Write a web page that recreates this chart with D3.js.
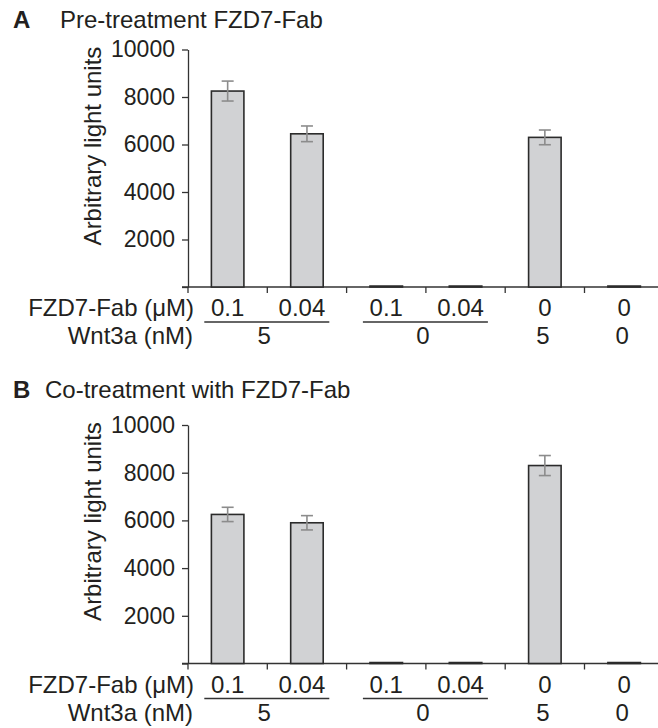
<!DOCTYPE html>
<html>
<head>
<meta charset="utf-8">
<script src="https://cdn.jsdelivr.net/npm/d3@7"></script>
<style>
  html, body { margin: 0; padding: 0; background: #fff; }
  svg { display: block; font-family: "Liberation Sans", Arial, sans-serif; }
</style>
</head>
<body>
<svg id="chart" width="658" height="728"></svg>
<script>
// ---- data ----
const categories = ["c1", "c2", "c3", "c4", "c5", "c6"];
const fabLabels = ["0.1", "0.04", "0.1", "0.04", "0", "0"];
const wntLabels = ["5", "0", "5", "0"];
const wntGroupStart = [0, 2, 4, 5];
const wntGroupEnd = [1, 3, 4, 5];
const yTicks = [0, 2000, 4000, 6000, 8000, 10000];
const preMeans = [8250, 6450, 40, 40, 6300, 40];
const preErrors = [420, 330, 0, 0, 310, 0];
const coMeans = [6250, 5900, 40, 40, 8300, 40];
const coErrors = [300, 300, 0, 0, 420, 0];
const panelLetters = ["A", "B"];
const panelTitles = ["Pre-treatment FZD7-Fab", "Co-treatment with FZD7-Fab"];
const rowTitles = ["FZD7-Fab (\u03bcM)", "Wnt3a (nM)"];
const yLabel = "Arbitrary light units";

// ---- drawing ----
const svg = d3.select("#chart");
const textColor = "#231f20";
const axisColor = "#333333";

const x = d3.scaleBand()
  .domain(categories)
  .range([188, 188 + 6 * 79.3])
  .paddingInner(0.59)
  .paddingOuter(0.295);

function drawPanel(idx, means, errors, top, bottom, titleY, titleX) {
  const g = svg.append("g");
  const y = d3.scaleLinear().domain([0, 10000]).range([bottom, top]);

  // title
  g.append("text").attr("x", 13).attr("y", titleY)
    .attr("font-size", 24).attr("font-weight", "bold").attr("fill", textColor)
    .text(panelLetters[idx]);
  g.append("text").attr("x", titleX).attr("y", titleY)
    .attr("font-size", 24).attr("fill", textColor)
    .text(panelTitles[idx]);

  // x axis line + boundary ticks
  g.append("line")
    .attr("x1", x.range()[0] - 6).attr("x2", 658)
    .attr("y1", y(0)).attr("y2", y(0))
    .attr("stroke", axisColor).attr("stroke-width", 1.3);
  d3.range(categories.length).forEach(i => {
    const bx = x.range()[0] + i * x.step();
    g.append("line")
      .attr("x1", bx).attr("x2", bx)
      .attr("y1", y(0)).attr("y2", y(0) + 6)
      .attr("stroke", axisColor).attr("stroke-width", 1.3);
  });

  // y axis
  const yAxis = d3.axisLeft(y)
    .tickValues(yTicks)
    .tickFormat(d => d === 0 ? "" : d3.format("d")(d))
    .tickSize(6).tickSizeOuter(0).tickPadding(7);
  const ya = g.append("g").attr("transform", `translate(${x.range()[0]},0)`).call(yAxis);
  ya.selectAll("path, line").attr("stroke", axisColor).attr("stroke-width", 1.3);
  ya.selectAll("text").attr("font-size", 23).attr("fill", textColor)
    .attr("font-family", "Liberation Sans, Arial, sans-serif");

  // y label
  g.append("text")
    .attr("transform", `translate(101,${top + 96.5}) rotate(-90)`)
    .attr("text-anchor", "middle")
    .attr("font-size", 24).attr("fill", textColor)
    .text(yLabel);

  // bars
  g.selectAll("rect.bar").data(means).enter().append("rect")
    .attr("class", "bar")
    .attr("x", (d, i) => x(categories[i]))
    .attr("width", x.bandwidth())
    .attr("y", d => y(d))
    .attr("height", d => y(0) - y(d))
    .attr("fill", "#d1d2d4")
    .attr("stroke", "#2b2b2b").attr("stroke-width", 1.6);

  // error bars
  const errColor = "#8c8c8c";
  means.forEach((m, i) => {
    const e = errors[i];
    if (!e) return;
    const cx = x(categories[i]) + x.bandwidth() / 2;
    g.append("line").attr("x1", cx).attr("x2", cx)
      .attr("y1", y(m + e)).attr("y2", y(m - e))
      .attr("stroke", errColor).attr("stroke-width", 1.6);
    [m + e, m - e].forEach(v => {
      g.append("line").attr("x1", cx - 6).attr("x2", cx + 6)
        .attr("y1", y(v)).attr("y2", y(v))
        .attr("stroke", errColor).attr("stroke-width", 1.6);
    });
  });

  // condition rows
  const row1 = y(0) + 29, line1 = y(0) + 35, row2 = y(0) + 57;
  g.append("text").attr("x", 194).attr("y", row1).attr("text-anchor", "end")
    .attr("font-size", 24).attr("fill", textColor).text(rowTitles[0]);
  g.append("text").attr("x", 193).attr("y", row2).attr("text-anchor", "end")
    .attr("font-size", 24).attr("fill", textColor).text(rowTitles[1]);

  g.selectAll("text.fab").data(fabLabels).enter().append("text")
    .attr("class", "fab")
    .attr("x", (d, i) => x(categories[i]) + x.bandwidth() / 2 - (d.length > 3 ? 5 : 0))
    .attr("y", row1).attr("text-anchor", "middle")
    .attr("font-size", 24).attr("fill", textColor).text(d => d);

  wntLabels.forEach((lab, k) => {
    const a = x(categories[wntGroupStart[k]]) + x.bandwidth() / 2;
    const b = x(categories[wntGroupEnd[k]]) + x.bandwidth() / 2;
    const mid = (a + b) / 2;
    g.append("text").attr("x", mid - (a === b ? 2 : 3)).attr("y", row2)
      .attr("text-anchor", "middle").attr("font-size", 24).attr("fill", textColor)
      .text(lab);
    if (a !== b) {
      g.append("line")
        .attr("x1", mid - 63).attr("x2", mid + 62)
        .attr("y1", line1).attr("y2", line1)
        .attr("stroke", axisColor).attr("stroke-width", 1.3);
    }
  });
}

drawPanel(0, preMeans, preErrors, 49.5, 287, 28, 60);
drawPanel(1, coMeans, coErrors, 425, 663.5, 398, 45);
</script>
</body>
</html>
